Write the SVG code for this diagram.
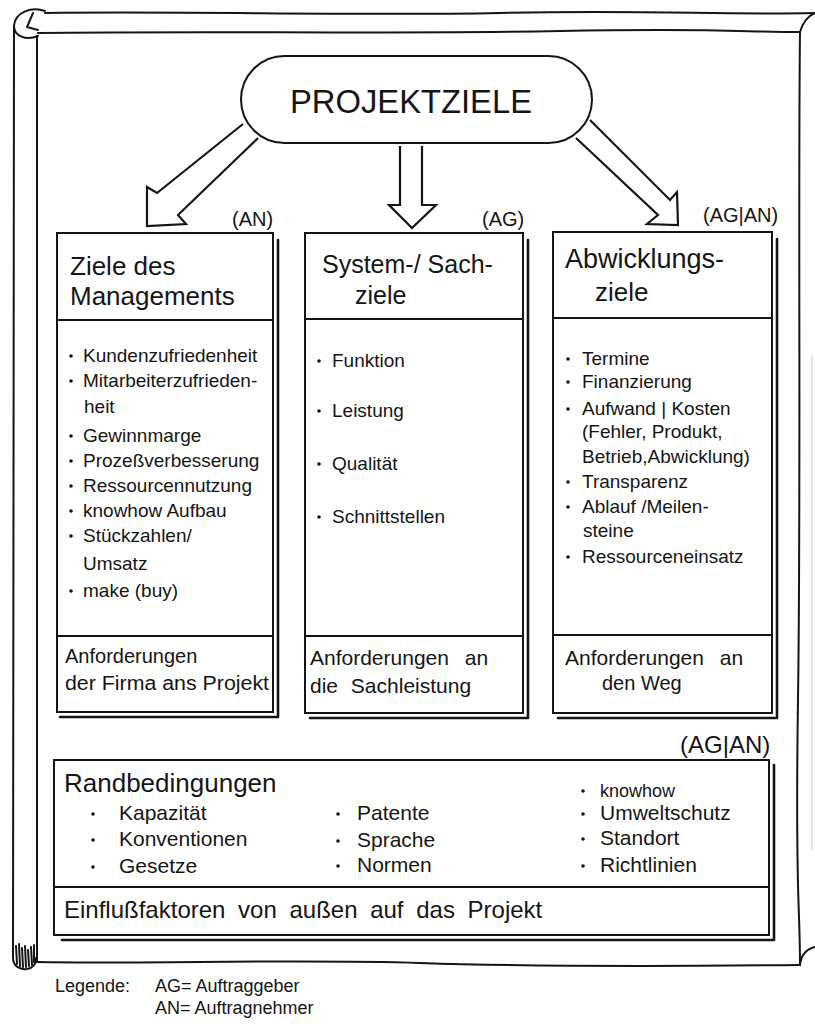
<svg xmlns="http://www.w3.org/2000/svg" width="815" height="1028" viewBox="0 0 815 1028">
<style>
.ln{fill:none;stroke:#151515;stroke-width:2;stroke-linecap:round;stroke-linejoin:round}
.box{fill:#fff;stroke:#151515;stroke-width:2}
.sh{fill:none;stroke:#151515;stroke-width:2.6;stroke-linecap:round;stroke-linejoin:round}
.arrow{fill:#fff;stroke:#151515;stroke-width:2.2;stroke-linejoin:miter}
.faint{fill:none;stroke:#c8c8c8;stroke-width:1}
.t{font-family:"Liberation Sans",Arial,sans-serif;fill:#151515}
.title{font-size:26px}
.item{font-size:19px}
.foot{font-size:20px}
.lbl{font-size:20px}
.rb{font-size:21px}
.dot{fill:#151515}
</style>
<rect width="815" height="1028" fill="#fff"/>
<g id="frame">
  <path class="ln" d="M45,13 C200,11 350,16 500,13 S720,15 815,13"/>
  <path class="ln" d="M38,33 C200,31 400,34 560,31 S740,32 800,32"/>
  <path class="ln" d="M800,32 C803,22 808,16 815,13"/>
  <path class="ln" d="M45,11 C32,6 15,12 14,26 C14,36 26,41 38,36"/>
  <path class="ln" d="M33,13 L27,27 L38,30"/>
  <path class="ln" d="M14,26 C13,300 15,600 13,958 C13,966 20,970 27,969 C33,968 36,965 36,958"/>
  <path class="ln" d="M37,36 C38,300 36,600 37,962"/>
  <path class="ln" stroke-width="1.2" d="M16,946 L17,964 M19,944 L20,966 M22,948 L23,967 M25,946 L26,967 M28,950 L29,966 M31,947 L32,965 M34,945 L34,962"/>
  <path class="ln" d="M37,962 C150,964 300,959 420,963 S700,966 800,965"/>
  <path class="ln" d="M800,32 C798,200 801,500 798,700 S800,900 800,965"/>
  <path class="ln" d="M800,965 C801,955 807,949 815,947"/>
  <path class="faint" d="M812,355 L812,850"/>
</g>
<g id="node-projektziele">
  <rect x="241" y="56" width="351" height="87" rx="43.5" class="box" stroke-width="2.2"/>
  <text x="411" y="113" class="t" font-size="33" text-anchor="middle" textLength="242" lengthAdjust="spacingAndGlyphs">PROJEKTZIELE</text>
</g>
<g id="connectors">
  <path class="arrow" d="M243,124 L157,193 L147,187 L147,226 L186,224 L178,215 L258,138"/>
  <path class="arrow" d="M400,146 L400,205 L389,205 L412,228 L436,205 L422,205 L422,146"/>
  <path class="arrow" d="M590,120 L670,200 L677,192 L678,225 L647,224 L658,215 L576,138"/>
</g>
<g id="node-management">
  <text x="232" y="226" class="t lbl">(AN)</text>
  <path class="sh" d="M278,240 L278,717 L60,717"/>
  <rect x="57" y="233" width="216" height="479" class="box"/>
  <path class="ln" d="M57,320 L273,320 M57,636 L273,636"/>
  <text x="70" y="275" class="t title">Ziele des</text>
  <text x="70" y="305" class="t title">Managements</text>
  <circle class="dot" cx="71" cy="356" r="1.8"/>
  <circle class="dot" cx="71" cy="381" r="1.8"/>
  <circle class="dot" cx="71" cy="436" r="1.8"/>
  <circle class="dot" cx="71" cy="461" r="1.8"/>
  <circle class="dot" cx="71" cy="486" r="1.8"/>
  <circle class="dot" cx="71" cy="511" r="1.8"/>
  <circle class="dot" cx="71" cy="536" r="1.8"/>
  <circle class="dot" cx="71" cy="591" r="1.8"/>
  <text x="83" y="362" class="t item">Kundenzufriedenheit</text>
  <text x="83" y="387" class="t item">Mitarbeiterzufrieden-</text>
  <text x="84" y="413" class="t item">heit</text>
  <text x="83" y="442" class="t item">Gewinnmarge</text>
  <text x="83" y="467" class="t item">Prozeßverbesserung</text>
  <text x="83" y="492" class="t item">Ressourcennutzung</text>
  <text x="83" y="517" class="t item">knowhow Aufbau</text>
  <text x="83" y="542" class="t item">Stückzahlen/</text>
  <text x="83" y="570" class="t item">Umsatz</text>
  <text x="83" y="597" class="t item">make (buy)</text>
  <text x="65" y="663" class="t foot">Anforderungen</text>
  <text x="65" y="690" class="t foot" textLength="204" lengthAdjust="spacingAndGlyphs">der Firma ans Projekt</text>
</g>
<g id="node-sachziele">
  <text x="482" y="226" class="t lbl">(AG)</text>
  <path class="sh" d="M528,240 L528,718 L310,718"/>
  <rect x="305" y="233" width="218" height="480" class="box"/>
  <path class="ln" d="M305,319 L523,319 M305,636 L523,636"/>
  <text x="322" y="273" class="t" font-size="25">System-/ Sach-</text>
  <text x="355" y="304" class="t" font-size="25">ziele</text>
  <circle class="dot" cx="319" cy="361" r="1.8"/>
  <circle class="dot" cx="319" cy="411" r="1.8"/>
  <circle class="dot" cx="319" cy="464" r="1.8"/>
  <circle class="dot" cx="319" cy="517" r="1.8"/>
  <text x="332" y="367" class="t item">Funktion</text>
  <text x="332" y="417" class="t item">Leistung</text>
  <text x="332" y="470" class="t item">Qualität</text>
  <text x="332" y="523" class="t item">Schnittstellen</text>
  <text x="310" y="665" class="t" font-size="21" word-spacing="10">Anforderungen an</text>
  <text x="310" y="693" class="t" font-size="21" word-spacing="7">die Sachleistung</text>
</g>
<g id="node-abwicklung">
  <text x="703" y="222" class="t lbl">(AG|AN)</text>
  <path class="sh" d="M777,239 L777,718 L558,718"/>
  <rect x="553" y="232" width="219" height="481" class="box"/>
  <path class="ln" d="M553,318 L772,318 M553,635 L772,635"/>
  <text x="565" y="268" class="t" font-size="27">Abwicklungs-</text>
  <text x="595" y="301" class="t title">ziele</text>
  <circle class="dot" cx="568" cy="359" r="1.8"/>
  <circle class="dot" cx="568" cy="382" r="1.8"/>
  <circle class="dot" cx="568" cy="409" r="1.8"/>
  <circle class="dot" cx="568" cy="482" r="1.8"/>
  <circle class="dot" cx="568" cy="507" r="1.8"/>
  <circle class="dot" cx="568" cy="557" r="1.8"/>
  <text x="582" y="365" class="t item">Termine</text>
  <text x="582" y="388" class="t item">Finanzierung</text>
  <text x="582" y="415" class="t item">Aufwand | Kosten</text>
  <text x="582" y="438" class="t item">(Fehler, Produkt,</text>
  <text x="582" y="463" class="t item">Betrieb,Abwicklung)</text>
  <text x="582" y="488" class="t item">Transparenz</text>
  <text x="582" y="513" class="t item">Ablauf /Meilen-</text>
  <text x="583" y="537" class="t item">steine</text>
  <text x="582" y="563" class="t item">Ressourceneinsatz</text>
  <text x="565" y="665" class="t" font-size="21" word-spacing="10">Anforderungen an</text>
  <text x="602" y="690" class="t foot">den Weg</text>
</g>
<g id="node-randbedingungen">
  <text x="680" y="753" class="t" font-size="24">(AG|AN)</text>
  <path class="sh" d="M774,765 L774,940 L62,940"/>
  <rect x="54" y="760" width="715" height="175" class="box"/>
  <path class="ln" d="M54,887 L769,887"/>
  <text x="64" y="792" class="t" font-size="26">Randbedingungen</text>
  <circle class="dot" cx="93" cy="814" r="1.8"/>
  <circle class="dot" cx="93" cy="840" r="1.8"/>
  <circle class="dot" cx="93" cy="867" r="1.8"/>
  <circle class="dot" cx="338" cy="814" r="1.8"/>
  <circle class="dot" cx="338" cy="841" r="1.8"/>
  <circle class="dot" cx="338" cy="866" r="1.8"/>
  <circle class="dot" cx="583" cy="791" r="1.8"/>
  <circle class="dot" cx="583" cy="814" r="1.8"/>
  <circle class="dot" cx="583" cy="839" r="1.8"/>
  <circle class="dot" cx="583" cy="866" r="1.8"/>
  <text x="119" y="820" class="t rb">Kapazität</text>
  <text x="119" y="846" class="t rb">Konventionen</text>
  <text x="119" y="873" class="t rb">Gesetze</text>
  <text x="357" y="820" class="t rb">Patente</text>
  <text x="357" y="847" class="t rb">Sprache</text>
  <text x="357" y="872" class="t rb">Normen</text>
  <text x="600" y="797" class="t" font-size="18">knowhow</text>
  <text x="600" y="820" class="t rb">Umweltschutz</text>
  <text x="600" y="845" class="t rb">Standort</text>
  <text x="600" y="872" class="t rb">Richtlinien</text>
  <text x="64" y="918" class="t" font-size="24" word-spacing="6">Einflußfaktoren von außen auf das Projekt</text>
</g>
<g id="legend">
  <text x="55" y="992" class="t" font-size="18">Legende:</text>
  <text x="155" y="992" class="t" font-size="18">AG= Auftraggeber</text>
  <text x="155" y="1014" class="t" font-size="18">AN= Auftragnehmer</text>
</g>
</svg>
